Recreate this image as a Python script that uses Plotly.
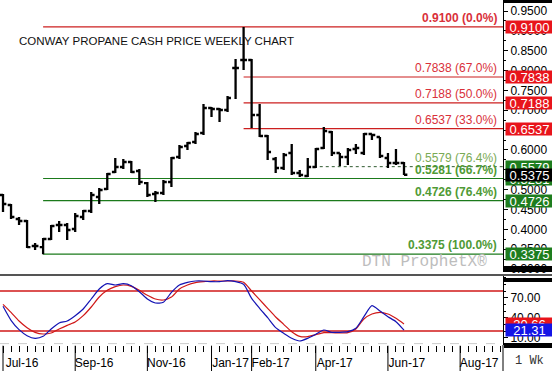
import plotly.graph_objects as go
import pandas as pd

# ---------------- data ----------------
week_dates = pd.date_range("2016-07-01", periods=51, freq="7D")

open_ = [0.4865, 0.4614, 0.4261, 0.4211, 0.3581, 0.3555, 0.3757, 0.4110, 0.4110, 0.4009,
         0.4311, 0.4462, 0.4815, 0.5017, 0.5445, 0.5571, 0.5697, 0.5470, 0.5167, 0.4891,
         0.4916, 0.5193, 0.5823, 0.6100, 0.6200, 0.6427, 0.7057, 0.7032, 0.7006, 0.8064,
         0.8266, 0.8266, 0.6880, 0.6351, 0.5772, 0.5545, 0.5923, 0.5419, 0.5344, 0.5571,
         0.6049, 0.6452, 0.5923, 0.5823, 0.6024, 0.5923, 0.6402, 0.6326, 0.5797, 0.5671,
         0.5671]
high = [0.4891, 0.4639, 0.4311, 0.4236, 0.3656, 0.3782, 0.4110, 0.4211, 0.4160, 0.4412,
        0.4487, 0.4941, 0.5042, 0.5419, 0.5797, 0.5772, 0.5722, 0.5520, 0.5193, 0.4966,
        0.5243, 0.5823, 0.6125, 0.6200, 0.6452, 0.7157, 0.7082, 0.7057, 0.7359, 0.8291,
        0.9100, 0.8291, 0.7157, 0.6377, 0.5823, 0.5923, 0.6150, 0.5495, 0.5797, 0.6049,
        0.6578, 0.6477, 0.5923, 0.6049, 0.6150, 0.6427, 0.6402, 0.6326, 0.5923, 0.6024,
        0.5697]
low = [0.4437, 0.4261, 0.4110, 0.3530, 0.3480, 0.3375, 0.3732, 0.3933, 0.3732, 0.3933,
       0.4236, 0.4412, 0.4639, 0.4991, 0.5419, 0.5520, 0.5419, 0.5117, 0.4815, 0.4689,
       0.4865, 0.5067, 0.5772, 0.5999, 0.6150, 0.6377, 0.6830, 0.6704, 0.6956, 0.7283,
       0.8014, 0.6553, 0.6326, 0.5747, 0.5419, 0.5495, 0.5369, 0.5319, 0.5319, 0.5545,
       0.6024, 0.5848, 0.5596, 0.5621, 0.5898, 0.5873, 0.6251, 0.5797, 0.5545, 0.5621,
       0.5369]
close = [0.4639, 0.4311, 0.4211, 0.3555, 0.3581, 0.3757, 0.4084, 0.4110, 0.3984, 0.4336,
         0.4462, 0.4865, 0.4991, 0.5394, 0.5571, 0.5697, 0.5445, 0.5193, 0.4865, 0.4916,
         0.5193, 0.5797, 0.6074, 0.6175, 0.6402, 0.7057, 0.7032, 0.7006, 0.7309, 0.8064,
         0.8266, 0.6880, 0.6351, 0.5949, 0.5545, 0.5873, 0.5419, 0.5369, 0.5571, 0.6024,
         0.6477, 0.5923, 0.5823, 0.5999, 0.6049, 0.6402, 0.6377, 0.5848, 0.5671, 0.5671,
         0.5375]

stoch_k = [57, 36, 22, 13, 9, 12, 23, 32, 35, 43, 53, 68, 83, 91, 89, 91, 88, 79, 68, 62,
           63, 78, 89, 93, 95, 95, 94, 94, 95.5, 94, 90, 69, 54, 40, 25, 16.5, 9, 5, 9, 15,
           21.5, 18, 18, 19, 24, 41.5, 58, 50, 41.5, 34, 21.31]
stoch_d = [60, 48, 35, 25, 18, 15.5, 17, 23, 28.5, 33.5, 43, 56, 71, 81, 86.5, 89, 87, 81,
           73.5, 68, 66.5, 71, 83, 89, 92.5, 94, 95, 95, 95, 95, 93, 80, 67, 54, 41, 30, 19,
           12, 11.5, 14.5, 17.5, 17.5, 17, 17.5, 23, 38, 45.5, 48, 45.5, 39, 30.66]

red_levels = [0.9100, 0.7838, 0.7188, 0.6537]
red_labels = ["0.9100 (0.0%)", "0.7838 (67.0%)", "0.7188 (50.0%)", "0.6537 (33.0%)"]
red_start = [5, 30, 30, 30]
green_levels = [0.5579, 0.5281, 0.4726, 0.3375]
green_labels = ["0.5579 (76.4%)", "0.5281 (66.7%)", "0.4726 (76.4%)", "0.3375 (100.0%)"]
green_start = [38, 5, 5, 5]
last_price = 0.5375
stoch_last = [("30.66", 30.66), ("21.31", 21.31)]

month_ticks = ["2016-07-01", "2016-09-02", "2016-11-04", "2016-12-30", "2017-02-03",
               "2017-03-31", "2017-06-02", "2017-08-04"]
month_labels = ["Jul-16", "Sep-16", "Nov-16", "Jan-17", "Feb-17", "Apr-17", "Jun-17", "Aug-17"]

X_RANGE = ["2016-06-28 09:00", "2017-09-10 10:00"]

RED_LINE = "#cc1f1f"
GREEN_LINE = "#1b7a1b"
RED_TXT = "#d9303a"
GREEN_TXT = "#4f9a35"
FONT = "Liberation Sans"

fig = go.Figure()

fig.add_trace(go.Ohlc(
    x=week_dates, open=open_, high=high, low=low, close=close,
    increasing=dict(line=dict(color="black", width=2.3)),
    decreasing=dict(line=dict(color="black", width=2.3)),
    tickwidth=0.42, xaxis="x", yaxis="y", hoverinfo="skip"))

fig.add_trace(go.Scatter(x=week_dates, y=stoch_d, mode="lines",
                         line=dict(color="#d01818", width=1.2, shape="spline", smoothing=0.6),
                         xaxis="x", yaxis="y2", hoverinfo="skip"))
fig.add_trace(go.Scatter(x=week_dates, y=stoch_k, mode="lines",
                         line=dict(color="#1414b4", width=1.2, shape="spline", smoothing=0.6),
                         xaxis="x", yaxis="y2", hoverinfo="skip"))

shapes = []
annotations = []

for v, lab, s in zip(red_levels, red_labels, red_start):
    shapes.append(dict(type="line", xref="x", yref="y", x0=week_dates[s], x1=X_RANGE[1],
                       y0=v, y1=v, line=dict(color=RED_LINE, width=1.2), layer="below"))
    annotations.append(dict(xref="paper", yref="y", x=0.9915, y=v, xanchor="right",
                            yanchor="bottom", text=lab, showarrow=False,
                            font=dict(family=FONT, size=12, color=RED_TXT,
                                      weight="bold" if lab.startswith("0.9100") else "normal")))
for v, lab, s in zip(green_levels, green_labels, green_start):
    dashed = lab.startswith("0.5579")
    shapes.append(dict(type="line", xref="x", yref="y", x0=week_dates[s], x1=X_RANGE[1],
                       y0=v, y1=v,
                       line=dict(color="#2f5a2f" if dashed else GREEN_LINE,
                                 width=1 if dashed else 1.2,
                                 dash="3px,3px" if dashed else "solid"), layer="below"))
    annotations.append(dict(xref="paper", yref="y", x=0.9915, y=v, xanchor="right",
                            yanchor="bottom", text=lab, showarrow=False,
                            font=dict(family=FONT, size=12,
                                      color="#7aaa55" if dashed else GREEN_TXT,
                                      weight="normal" if dashed else "bold")))

for v in [20, 80]:
    shapes.append(dict(type="line", xref="paper", yref="y2", x0=0, x1=1, y0=v, y1=v,
                       line=dict(color="#d01818", width=1.3), layer="below"))

for d in month_ticks:
    shapes.append(dict(type="line", xref="x", yref="paper", x0=d, x1=d, y0=-0.002, y1=-0.08,
                       line=dict(color="black", width=1)))

shapes += [
    dict(type="line", xref="paper", yref="paper", x0=0, x1=1.1, y0=0.2029, y1=0.2029,
         line=dict(color="#555555", width=2)),
    dict(type="line", xref="paper", yref="paper", x0=0, x1=1, y0=0.004, y1=0.004,
         line=dict(color="#cccccc", width=1, dash="dash")),
    dict(type="rect", xref="paper", yref="paper", x0=1.002, x1=1.1, y0=0.991, y1=1.0,
         fillcolor="black", line=dict(width=0)),
    dict(type="rect", xref="paper", yref="paper", x0=1.002, x1=1.1, y0=0.2116, y1=0.229,
         fillcolor="black", line=dict(width=0)),
    dict(type="rect", xref="paper", yref="paper", x0=1.002, x1=1.1, y0=0.1826, y1=0.1942,
         fillcolor="black", line=dict(width=0)),
    dict(type="rect", xref="paper", yref="paper", x0=1.002, x1=1.1, y0=-0.0087, y1=0.0058,
         fillcolor="black", line=dict(width=0)),
    dict(type="line", xref="paper", yref="paper", x0=1, x1=1, y0=0, y1=-0.08,
         line=dict(color="black", width=1)),
]

def box(text, y, yref, bg):
    return dict(xref="paper", yref=yref, x=1.003, y=y, xanchor="left", yanchor="middle",
                text=text, showarrow=False, bgcolor=bg, width=47, height=12, borderpad=0,
                align="center", font=dict(family=FONT, size=13, color="white"))

for v in red_levels:
    annotations.append(box(f"{v:.4f}", v, "y", "#e8141b"))
for v in green_levels:
    annotations.append(box(f"{v:.4f}", v, "y", "#1e7d1e"))
annotations.append(box(f"{last_price:.4f}", last_price, "y", "#000000"))
annotations.append(box(stoch_last[0][0], stoch_last[0][1], "y2", "#e8141b"))
annotations.append(box(stoch_last[1][0], stoch_last[1][1], "y2", "#1414e6"))

annotations += [
    dict(xref="paper", yref="paper", x=0.0338, y=0.8812, xanchor="left", yanchor="middle",
         text="CONWAY PROPANE CASH PRICE WEEKLY CHART", showarrow=False,
         font=dict(family=FONT, size=11.5, color="#111111", weight=500)),
    dict(xref="paper", yref="paper", x=0.972, y=0.2406, xanchor="right", yanchor="middle",
         text="DTN ProphetX®", showarrow=False,
         font=dict(family="Liberation Mono", size=16, color="#bdbdbd")),
    dict(xref="paper", yref="paper", x=1.02, y=-0.046, xanchor="left", yanchor="middle",
         text="1 Wk", showarrow=False,
         font=dict(family="Liberation Mono", size=12, color="#333333")),
]

fig.update_layout(
    width=552, height=371,
    margin=dict(l=0, r=49, t=0, b=26),
    paper_bgcolor="white", plot_bgcolor="white",
    showlegend=False,
    shapes=shapes, annotations=annotations,
    xaxis=dict(type="date", range=X_RANGE, domain=[0, 1], anchor="y2",
               rangeslider=dict(visible=False),
               showgrid=False, zeroline=False, showline=False,
               tickvals=month_ticks, ticktext=month_labels,
               ticks="outside", ticklen=7, tickcolor="black",
               ticklabelshift=19,
               tickfont=dict(family=FONT, size=12, color="black"),
               minor=dict(dtick=7 * 86400000, tick0="2016-07-01", ticks="outside",
                          ticklen=6, tickcolor="black", showgrid=False)),
    yaxis=dict(domain=[0.2116, 1], range=[0.2926, 0.9777], side="right", anchor="x",
               showgrid=False, zeroline=False, showline=True, linecolor="black",
               linewidth=1, ticks="outside", ticklen=4, tickcolor="black",
               dtick=0.05, tick0=0, tickformat=".4f",
               tickfont=dict(family=FONT, size=12, color="black"),
               minor=dict(dtick=0.025, ticks="outside", ticklen=2, tickcolor="black")),
    yaxis2=dict(domain=[0, 0.2], range=[-1, 102.5], side="right", anchor="x",
                showgrid=False, zeroline=False, showline=True, linecolor="black",
                linewidth=1, ticks="outside", ticklen=4, tickcolor="black",
                tickvals=[10, 40, 70], tickformat=".2f",
                tickfont=dict(family=FONT, size=12, color="black"),
                minor=dict(dtick=10, ticks="outside", ticklen=2, tickcolor="black")),
)

fig.write_html("out.html", config={"displayModeBar": False, "staticPlot": True},
               post_script="document.body.style.margin='0';document.body.style.overflow='hidden';")
